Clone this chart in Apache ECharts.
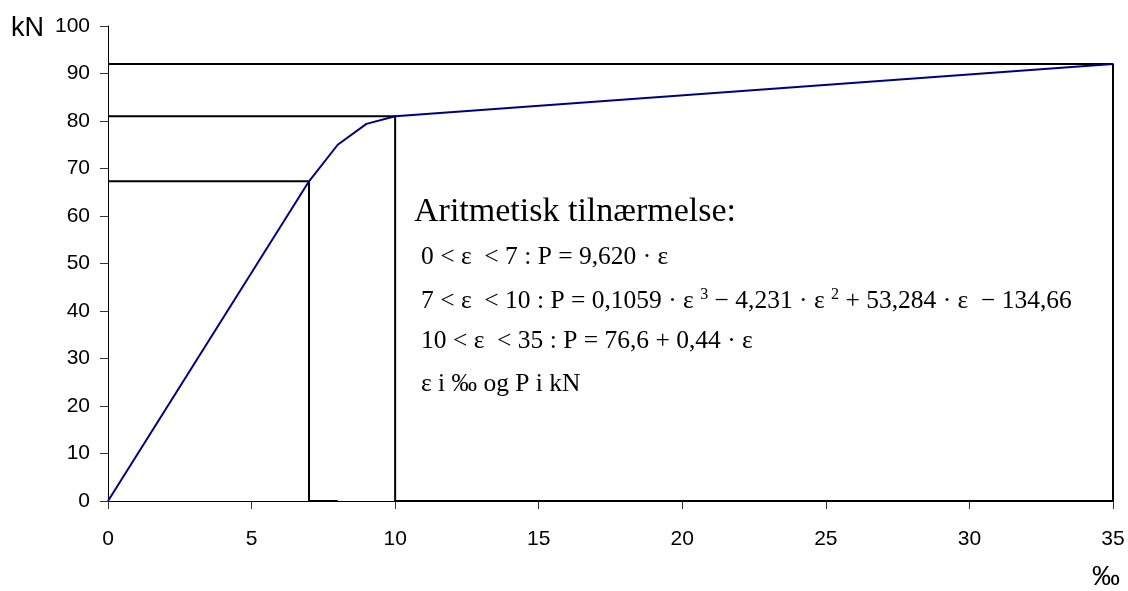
<!DOCTYPE html>
<html>
<head>
<meta charset="utf-8">
<script src="https://cdn.jsdelivr.net/npm/echarts@6/dist/echarts.min.js"></script>
<style>
  html, body { margin: 0; padding: 0; background: #fff; }
  #chart { width: 1128px; height: 591px; }
</style>
</head>
<body>
<div id="chart"></div>
<script>
// arbeidslinje (‰ -> kN)
const strain = [0, 7, 8, 9, 10, 35]
const load = [0, 67.3, 75, 79.4, 81, 92]

// hjelpelinjer
const guide1X = [0, 7, 7, 8]
const guide1Y = [67.3, 67.3, 0, 0]
const guide2X = [0, 10, 10, 35, 35, 0]
const guide2Y = [81, 81, 0, 0, 92, 92]

const noteTitle = 'Aritmetisk tilnærmelse:'
const noteLines = [
  '0 < ε  < 7 : P = 9,620 · ε',
  '7 < ε  < 10 : P = 0,1059 · ε {s|3} − 4,231 · ε {s|2} + 53,284 · ε  − 134,66',
  '10 < ε  < 35 : P = 76,6 + 0,44 · ε',
  'ε i ‰ og P i kN',
]

const zip = (xs, ys) => xs.map((x, i) => [x, ys[i]])

const chart = echarts.init(document.getElementById('chart'))

const serif = 'Liberation Serif'
const sans = 'Liberation Sans'

const axisCommon = {
  type: 'value',
  splitLine: { show: false },
  axisLine: { show: true, lineStyle: { color: '#000', width: 1 } },
  axisTick: { show: true, inside: false, length: 8, lineStyle: { color: '#333' } },
  axisLabel: { color: '#000', fontSize: 21, fontFamily: sans },
}

const noteY = [257, 301, 341, 384]

chart.setOption({
  animation: false,
  backgroundColor: '#fff',
  grid: { left: 108, right: 15, top: 26, bottom: 90 },
  xAxis: Object.assign({}, axisCommon, {
    min: 0, max: 35, interval: 5,
    axisLabel: Object.assign({}, axisCommon.axisLabel, { margin: 28 }),
  }),
  yAxis: Object.assign({}, axisCommon, {
    min: 0, max: 100, interval: 10,
    axisLabel: Object.assign({}, axisCommon.axisLabel, { margin: 18 }),
  }),
  series: [
    {
      type: 'line', data: zip(guide2X, guide2Y), symbol: 'none',
      lineStyle: { color: '#000', width: 2 }, z: 2,
    },
    {
      type: 'line', data: zip(guide1X, guide1Y), symbol: 'none',
      lineStyle: { color: '#000', width: 2 }, z: 2,
    },
    {
      type: 'line', data: zip(strain, load), symbol: 'none',
      lineStyle: { color: '#000080', width: 2 }, z: 3,
    },
  ],
  graphic: [
    { type: 'text', x: 11, y: 29, style: { text: 'kN', fontSize: 27, fontFamily: sans, fill: '#000', verticalAlign: 'middle' } },
    { type: 'text', x: 1092, y: 577, style: { text: '‰', fontSize: 28, fontFamily: sans, fill: '#000', verticalAlign: 'middle' } },
    {
      type: 'text', x: 414, y: 212,
      style: { text: noteTitle, fontSize: 34, fontFamily: serif, fill: '#000', verticalAlign: 'middle' },
    },
  ].concat(noteLines.map((t, i) => ({
    type: 'text', x: 421, y: noteY[i],
    style: {
      text: t, fontSize: 25.5, fontFamily: serif, fill: '#000', verticalAlign: 'middle',
      rich: { s: { fontSize: 16, fontFamily: serif, verticalAlign: 'top', padding: [0, 0, 12, 0] } },
    },
  }))),
})

window.addEventListener('resize', function () {
  chart.resize()
})
</script>
</body>
</html>
